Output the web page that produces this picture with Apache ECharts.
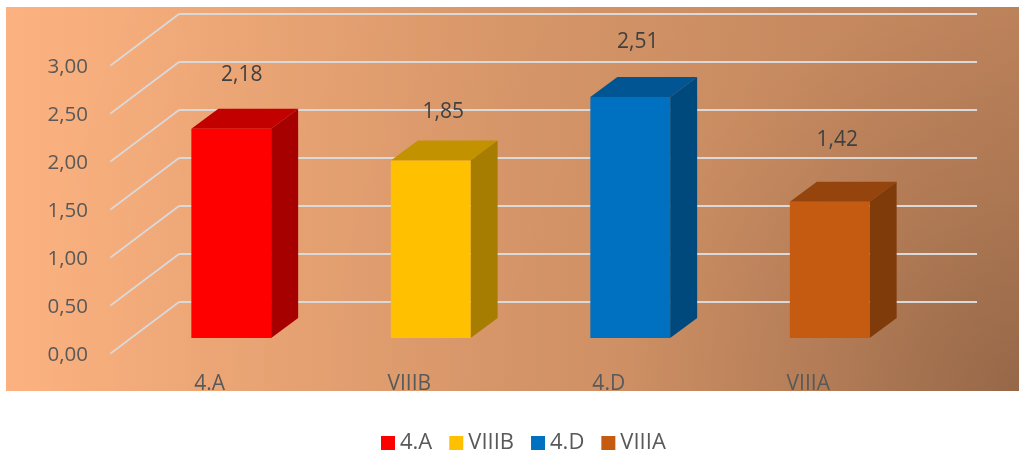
<!DOCTYPE html>
<html lang="en">
<head>
    <meta charset="UTF-8">
    <title>3D bars</title>
    <script src="https://cdn.jsdelivr.net/npm/echarts@6/dist/echarts.min.js"></script>
    <style>
        html, body { margin: 0; padding: 0; background: #fff; }
        #main { width: 1019px; height: 454px; }
    </style>
</head>
<body>
<div id="main"></div>
<script>
    const categories = ['4.A', 'VIIIB', '4.D', 'VIIIA'];
    const values = [2.18, 1.85, 2.51, 1.42];
    const yTicks = [0, 0.5, 1, 1.5, 2, 2.5, 3];
    const barColors = ['#FF0000', '#FFC000', '#0070C0', '#C55A11'];
    // where each value label sits, measured from the bar's point on the back wall
    const labelShift = [[-37, -18], [-35, -12], [-40, -19], [-40, -26]];

    const font = '"Open Sans", sans-serif';
    const fmt = v => v.toFixed(2).replace('.', ',');

    // darker version of a colour, for the top and side of a bar
    function shade(color, k) {
        const c = echarts.color.parse(color);
        return 'rgb(' + Math.round(c[0] * k) + ',' + Math.round(c[1] * k) + ',' + Math.round(c[2] * k) + ')';
    }

    // the fake perspective: back wall -> front of the floor
    const floorDx = -68.5, floorDy = 51.5;
    // back wall -> front face of a bar, and how deep a bar is
    const faceDx = -47.5, faceDy = 36;
    const depthDx = 27, depthDy = -20;

    function renderBar(params, api) {
        const i = api.value(0);
        const v = api.value(1);
        const top = api.coord([i, v]);
        const base = api.coord([i, 0]);
        const w = api.size([1, 0])[0] * 0.4;
        const color = barColors[i];

        const x0 = top[0] + faceDx - w / 2;
        const x1 = x0 + w;
        const yTop = top[1] + faceDy;
        const yBot = base[1] + faceDy;

        return {
            type: 'group',
            children: [
                {
                    type: 'polygon',
                    shape: { points: [[x0, yTop], [x1, yTop], [x1 + depthDx, yTop + depthDy], [x0 + depthDx, yTop + depthDy]] },
                    style: { fill: shade(color, 0.76) }
                },
                {
                    type: 'polygon',
                    shape: { points: [[x1, yTop], [x1 + depthDx, yTop + depthDy], [x1 + depthDx, yBot + depthDy], [x1, yBot]] },
                    style: { fill: shade(color, 0.65) }
                },
                {
                    type: 'rect',
                    shape: { x: x0, y: yTop, width: w, height: yBot - yTop },
                    style: { fill: color }
                },
                {
                    type: 'text',
                    style: {
                        text: fmt(v),
                        x: top[0] + labelShift[i][0],
                        y: top[1] + labelShift[i][1],
                        align: 'center',
                        verticalAlign: 'middle',
                        font: '21px ' + font,
                        fill: '#404040'
                    }
                }
            ]
        };
    }

    function renderFloorLine(params, api) {
        const p = api.coord([0, api.value(0)]);
        const x = params.coordSys.x;
        return {
            type: 'line',
            shape: { x1: x, y1: p[1], x2: x + floorDx, y2: p[1] + floorDy },
            style: { stroke: '#d9d9d9', lineWidth: 1.75 }
        };
    }

    const series = categories.map((name, i) => ({
        name: name,
        type: 'custom',
        xAxisIndex: 0,
        yAxisIndex: 0,
        coordinateSystem: 'cartesian2d',
        itemStyle: { color: barColors[i] },
        renderItem: renderBar,
        encode: { x: 0, y: 1 },
        data: [[i, values[i]]],
        z: 3
    }));
    series.unshift({
        name: 'floor',
        type: 'custom',
        xAxisIndex: 0,
        yAxisIndex: 0,
        renderItem: renderFloorLine,
        encode: { y: 0 },
        data: yTicks.map(v => [v]),
        silent: true,
        z: 2
    });

    const panel = { x: 6, y: 7, width: 1013, height: 384 };

    const chart = echarts.init(document.getElementById('main'));
    chart.setOption({
        animation: false,
        graphic: {
            z: -10,
            elements: [
                {
                    type: 'rect',
                    z: -10,
                    shape: panel,
                    style: {
                        fill: new echarts.graphic.LinearGradient(6, 7, 1019, 7, [
                            { offset: 0, color: '#FCB280' },
                            { offset: 0.5, color: '#DE9B6C' },
                            { offset: 1, color: '#C88A60' }
                        ], true)
                    }
                },
                {
                    // the bottom right corner gets darker on top of that
                    type: 'rect',
                    z: -9,
                    shape: panel,
                    style: {
                        fill: new echarts.graphic.RadialGradient(1019, 391, 1000, [
                            { offset: 0, color: 'rgba(0,0,0,0.25)' },
                            { offset: 0.2, color: 'rgba(0,0,0,0.14)' },
                            { offset: 0.4, color: 'rgba(0,0,0,0.05)' },
                            { offset: 0.6, color: 'rgba(0,0,0,0.035)' },
                            { offset: 1, color: 'rgba(0,0,0,0)' }
                        ], true)
                    }
                }
            ]
        },
        legend: {
            data: categories,
            left: 378,
            top: 432,
            icon: 'rect',
            itemWidth: 14,
            itemHeight: 14,
            itemGap: 17,
            padding: [0, 3],
            textStyle: { color: '#595959', fontFamily: font, fontSize: 22 }
        },
        grid: [
            // back wall
            { left: 179, top: 14, width: 798, height: 288 },
            // front edge of the floor, only carries the axis labels
            { left: 110, top: 67, width: 798, height: 288 }
        ],
        xAxis: [
            { type: 'category', data: categories, gridIndex: 0, show: false },
            {
                type: 'category',
                data: categories,
                gridIndex: 1,
                axisLine: { show: false },
                axisTick: { show: false },
                axisLabel: { color: '#595959', fontFamily: font, fontSize: 21, margin: 19 }
            }
        ],
        yAxis: [
            {
                type: 'value',
                gridIndex: 0,
                min: 0,
                max: 3,
                interval: 0.5,
                axisLabel: { show: false },
                axisLine: { show: false },
                axisTick: { show: false },
                splitLine: { lineStyle: { color: '#d9d9d9', width: 2 } }
            },
            {
                type: 'value',
                gridIndex: 1,
                min: 0,
                max: 3,
                interval: 0.5,
                axisLine: { show: false },
                axisTick: { show: false },
                splitLine: { show: false },
                axisLabel: { color: '#595959', fontFamily: font, fontSize: 20.5, margin: 22, formatter: v => fmt(v) }
            }
        ],
        series: series
    });
</script>
</body>
</html>
